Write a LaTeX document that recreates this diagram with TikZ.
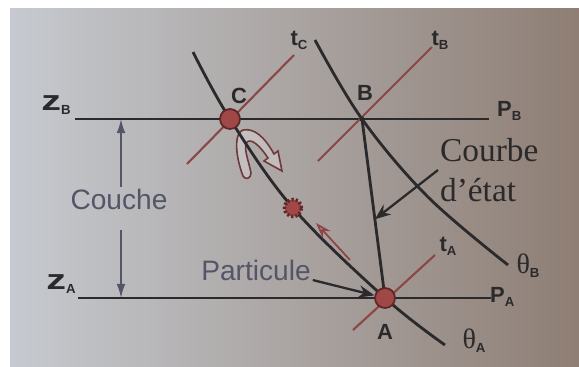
\documentclass[tikz,border=0pt]{standalone}
\usepackage{fontspec}
\setmainfont{Liberation Serif}
\setsansfont{Liberation Sans}
\usetikzlibrary{arrows.meta,calc}
\definecolor{ink}{HTML}{2A292B}
\definecolor{isotherm}{HTML}{8C4646}
\definecolor{blob}{HTML}{A04848}
\definecolor{blobrim}{HTML}{5E2626}
\definecolor{legend}{HTML}{55556A}
\definecolor{paperleft}{HTML}{C6CAD0}
\definecolor{papermid}{HTML}{B2B0B2}
\definecolor{paperright}{HTML}{8E7E74}
\newcommand{\lsub}[1]{\raisebox{-0.35ex}{\fontsize{7.5}{8}\selectfont #1}}
\newcommand{\zee}{{\fontsize{16}{17}\selectfont\scalebox{1.4}[1]{z}}}

\begin{document}
\begin{tikzpicture}[x=0.02cm,y=-0.02cm,
  level/.style={ink,line width=1.7pt},
  adiabat/.style={ink,line width=1.6pt},
  isoline/.style={isotherm,line width=1.2pt},
  point/.style={circle,draw=blobrim,fill=blob,line width=1pt,minimum size=0.4cm,inner sep=0pt},
  tag/.style={font=\sffamily\bfseries\fontsize{12.5}{14}\selectfont,text=ink,inner sep=1pt},
  legendtxt/.style={font=\sffamily\fontsize{16}{18}\selectfont,text=legend,inner sep=1pt},
  pointer/.style={ink,line width=1.3pt,-{Stealth[length=9pt,width=7pt]}},
  couchearrow/.style={legend,line width=1pt,-{Latex[length=8pt,width=5pt]}},
]
  % paper
  \fill[white] (0,0) rectangle (579,366);
  \shade[left color=paperleft,middle color=papermid,right color=paperright] (10,8) rectangle (579,366);
  \useasboundingbox (0,0) rectangle (579,366);

  % points of the chart
  \coordinate (zBleft) at (75,119);
  \coordinate (zBright) at (489,119);
  \coordinate (zAleft) at (78,298);
  \coordinate (zAright) at (491,298);
  \coordinate (c) at (230,119);
  \coordinate (b) at (362,119);
  \coordinate (a) at (385,298);
  \coordinate (p) at (293,208);
  \coordinate (thAtop) at (193,52);
  \coordinate (thAend) at (445,345);
  \coordinate (thBtop) at (315,40);
  \coordinate (thBmid) at (428,197);
  \coordinate (thBend) at (508,265);
  \coordinate (tCa) at (187,164);
  \coordinate (tCb) at (294,55);
  \coordinate (tBa) at (318,161);
  \coordinate (tBb) at (432,47);
  \coordinate (tAa) at (353,330);
  \coordinate (tAb) at (435,255);

  % hollow turning arrow under C
  \draw[isotherm!80!black,line width=0.9pt,fill=white,fill opacity=0.25]
    (251,173) .. controls (249,162) and (244,150) .. (246,144)
    .. controls (248,138) and (256,140) .. (268,158)
    -- (264,161) -- (282,171) -- (278,151) -- (274,154)
    .. controls (264,136) and (254,128) .. (243,130)
    .. controls (234,133) and (235,155) .. (243,176)
    .. controls (245,180) and (251,179) .. (251,173) -- cycle;

  % levels, isotherms, adiabats
  \draw[level] (zBleft) -- (zBright);
  \draw[level] (zAleft) -- (zAright);
  \draw[isoline] (tCa) -- (tCb);
  \draw[isoline] (tBa) -- (tBb);
  \draw[isoline] (tAa) -- (tAb);
  \draw[adiabat] plot[smooth,tension=0.6] coordinates {(thAtop) (c) (p) (a) (thAend)};
  \draw[adiabat] plot[smooth,tension=0.6] coordinates {(thBtop) (b) (thBmid) (thBend)};
  \draw[adiabat] (b) -- (a);

  \node[point] (C) at (c) {};
  \node[point] (A) at (a) {};
  \node[circle,fill=ink,minimum size=0.1cm,inner sep=0pt] (B) at (b) {};
  \node[circle,fill=blob,draw=blobrim,line width=2pt,dash pattern=on 1.2pt off 1.2pt,
        minimum size=0.34cm,inner sep=0pt] (parcel) at (p) {};

  % rising parcel
  \coordinate (riseS) at (350,260);
  \coordinate (riseE) at (316,223);
  \draw[isotherm,line width=1pt,-{Stealth[length=9pt,width=6pt,fill=blob!60]}] (riseS) -- (riseE);

  % labels
  \node[tag] (Clab) at (239,96) {C};
  \node[tag] (Blab) at (365,93) {B};
  \node[tag] (Alab) at (385,332) {A};
  \node[tag] (tC) at (299,40) {t\lsub{C}};
  \node[tag] (tB) at (440,40) {t\lsub{B}};
  \node[tag] (tA) at (448,246) {t\lsub{A}};
  \node[tag,anchor=west] (PB) at (495,111) {P\lsub{B}};
  \node[tag,anchor=west] (PA) at (488,297) {P\lsub{A}};
  \node[tag] (zB) at (56,105) {\zee\lsub{B}};
  \node[tag] (zA) at (61,284) {\zee\lsub{A}};
  \node[tag] (thA) at (474,341) {{\rmfamily\mdseries\fontsize{16}{18}\selectfont θ}\lsub{A}};
  \node[tag] (thB) at (528,266) {{\rmfamily\mdseries\fontsize{16}{18}\selectfont θ}\lsub{B}};

  \node[font=\fontsize{19}{22.5}\selectfont,text=ink,align=left,inner sep=1pt,anchor=west] (courbe) at (438,170) {Courbe\\d'état};
  \draw[pointer] (courbe.west) -- ($(b)!0.56!(a)$);

  \node[legendtxt] (particule) at (256,270) {Particule};
  \draw[pointer] (particule.base east) -- (A);

  \node[legendtxt] (couche) at (119,199) {Couche};
  \coordinate (couchelow) at (121,230);
  \draw[couchearrow] (couche.north -| couchelow) -- (couchelow |- zBleft);
  \draw[couchearrow] (couchelow) -- (couchelow |- zAleft);
\end{tikzpicture}
\end{document}
